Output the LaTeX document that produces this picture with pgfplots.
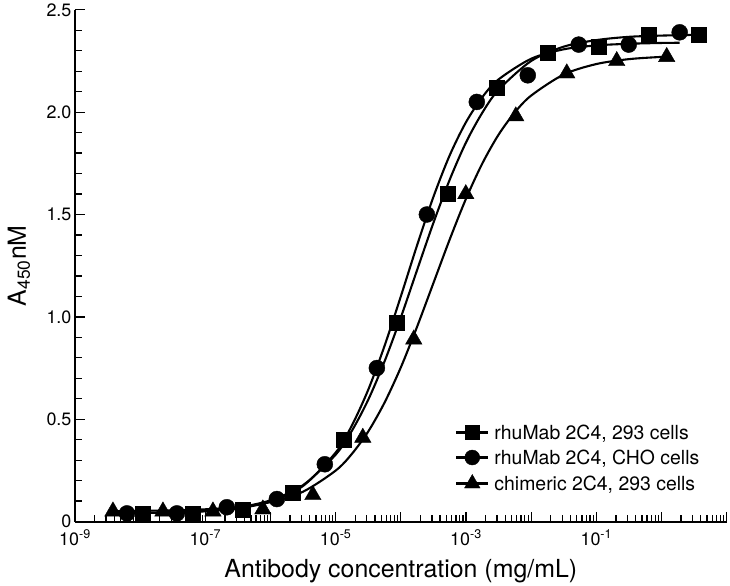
\documentclass[border=0pt]{standalone}
\usepackage{fontspec}
\setmainfont{TeX Gyre Heros}
\usepackage{pgfplots}
\pgfplotsset{compat=1.18}
\begin{document}
\begin{tikzpicture}
\begin{axis}[
  scale only axis,
  width=652bp, height=512bp,
  xmode=log,
  xmin=1e-9, xmax=10,
  ymin=0, ymax=2.5,
  axis lines*=left,
  axis line style={line width=1.9pt},
  tick align=inside,
  every tick/.style={black, line width=1.3pt},
  major tick length=10bp, minor tick length=7bp,
  xtick={1e-9,1e-8,1e-7,1e-6,1e-5,1e-4,1e-3,1e-2,1e-1,1,10},
  xticklabels={10\textsuperscript{-9},,10\textsuperscript{-7},,10\textsuperscript{-5},,10\textsuperscript{-3},,10\textsuperscript{-1},,},
  minor xtick={2e-9,3e-9,4e-9,5e-9,6e-9,7e-9,8e-9,9e-9,
    2e-8,3e-8,4e-8,5e-8,6e-8,7e-8,8e-8,9e-8,
    2e-7,3e-7,4e-7,5e-7,6e-7,7e-7,8e-7,9e-7,
    2e-6,3e-6,4e-6,5e-6,6e-6,7e-6,8e-6,9e-6,
    2e-5,3e-5,4e-5,5e-5,6e-5,7e-5,8e-5,9e-5,
    2e-4,3e-4,4e-4,5e-4,6e-4,7e-4,8e-4,9e-4,
    2e-3,3e-3,4e-3,5e-3,6e-3,7e-3,8e-3,9e-3,
    2e-2,3e-2,4e-2,5e-2,6e-2,7e-2,8e-2,9e-2,
    0.2,0.3,0.4,0.5,0.6,0.7,0.8,0.9,
    2,3,4,5,6,7,8,9},
  ytick={0,0.5,1,1.5,2,2.5},
  yticklabels={0,0.5,1.0,1.5,2.0,2.5},
  minor ytick={0.1,0.2,0.3,0.4,0.6,0.7,0.8,0.9,1.1,1.2,1.3,1.4,1.6,1.7,1.8,1.9,2.1,2.2,2.3,2.4},
  ticklabel style={font=\fontsize{18}{20}\selectfont},
  xticklabel style={yshift=-5bp},
  xlabel={Antibody concentration (mg/mL)},
  ylabel={A\textsubscript{450}nM},
  every axis x label/.style={at={(axis description cs:0.5,-0.096)}, anchor=center, font=\fontsize{25}{28}\selectfont},
  every axis y label/.style={at={(axis description cs:-0.086,0.5)}, rotate=90, anchor=center, font=\fontsize{25}{28}\selectfont},
  legend style={at={(0.583,0.190)}, anchor=north west, draw=none, fill=none,
    font=\fontsize{19.5}{22}\selectfont, row sep=9bp, inner sep=0pt,
    nodes={inner xsep=5bp, inner ysep=0pt}},
  legend cell align=left,
  legend image code/.code={\draw[mark repeat=2,mark phase=2] plot coordinates {(0bp,0bp) (16bp,0bp) (32bp,0bp)};},
  clip=false,
]
\coordinate (O) at (rel axis cs:0,0);
\addlegendimage{black, line width=2.4pt, mark=square*, mark size=7bp, mark options={solid, line width=0.4pt}}
\addlegendentry{rhuMab 2C4, 293 cells}
\addlegendimage{black, line width=2.4pt, mark=*, mark size=7.5bp, mark options={solid, line width=0.4pt}}
\addlegendentry{rhuMab 2C4, CHO cells}
\addlegendimage{black, line width=2.4pt, mark=triangle*, mark size=9bp, mark options={solid, line width=0.4pt}}
\addlegendentry{chimeric 2C4, 293 cells}

% fitted curves
\addplot[black, line width=2.1pt, smooth, forget plot] coordinates {
 (1.104e-8,0.043) (3.162e-8,0.046) (1e-7,0.053) (3.162e-7,0.069) (1e-6,0.104)
 (3.162e-6,0.178) (1e-5,0.327) (1.778e-5,0.444) (3.162e-5,0.595) (5.623e-5,0.782)
 (1e-4,0.997) (1.778e-4,1.229) (3.162e-4,1.459) (5.623e-4,1.670) (1e-3,1.852)
 (1.778e-3,1.997) (3.162e-3,2.109) (1e-2,2.250) (3.162e-2,2.320) (0.1,2.352)
 (0.3162,2.368) (1,2.374) (3.724,2.378)};
\addplot[black, line width=2.1pt, smooth, forget plot] coordinates {
 (6.28e-9,0.041) (3.162e-8,0.044) (1e-7,0.050) (3.162e-7,0.064) (1e-6,0.098)
 (3.162e-6,0.174) (1e-5,0.337) (1.778e-5,0.470) (3.162e-5,0.644) (5.623e-5,0.858)
 (1e-4,1.100) (1.778e-4,1.350) (3.162e-4,1.586) (5.623e-4,1.789) (1e-3,1.951)
 (1.778e-3,2.073) (3.162e-3,2.160) (1e-2,2.261) (3.162e-2,2.307) (0.1,2.326)
 (0.3162,2.334) (1,2.338) (1.90,2.339)};
\addplot[black, line width=2.1pt, smooth, forget plot] coordinates {
 (3.83e-9,0.051) (3.162e-8,0.055) (1e-7,0.060) (3.162e-7,0.071) (1e-6,0.095)
 (3.162e-6,0.146) (1e-5,0.249) (1.778e-5,0.331) (3.162e-5,0.440) (5.623e-5,0.581)
 (1e-4,0.753) (1.778e-4,0.952) (3.162e-4,1.165) (5.623e-4,1.378) (1e-3,1.577)
 (1.778e-3,1.749) (3.162e-3,1.890) (5.623e-3,1.999) (1e-2,2.081) (3.162e-2,2.184)
 (0.1,2.235) (0.3162,2.259) (1,2.270) (1.202,2.271)};

% data points
\addplot[black, only marks, mark=square*, mark size=7.5bp, forget plot] coordinates {
 (1.104e-8,0.04) (6.457e-8,0.04) (3.776e-7,0.06) (2.208e-6,0.14) (1.337e-5,0.40)
 (8.69e-5,0.97) (5.26e-4,1.60) (2.965e-3,2.12) (1.795e-2,2.29) (0.1089,2.32)
 (0.637,2.38) (3.724,2.38)};
\addplot[black, only marks, mark=*, mark size=8bp, forget plot] coordinates {
 (6.28e-9,0.04) (3.66e-8,0.04) (2.14e-7,0.07) (1.253e-6,0.11) (6.82e-6,0.28)
 (4.29e-5,0.75) (2.51e-4,1.50) (1.466e-3,2.05) (8.87e-3,2.18) (5.37e-2,2.33)
 (0.314,2.33) (1.90,2.39)};
\addplot[black, only marks, mark=triangle*, mark size=9.5bp, forget plot] coordinates {
 (3.83e-9,0.05) (2.24e-8,0.05) (1.31e-7,0.05) (7.64e-7,0.06) (4.47e-6,0.13)
 (2.61e-5,0.41) (1.58e-4,0.89) (9.93e-4,1.60) (5.81e-3,1.98) (3.52e-2,2.19)
 (0.2056,2.25) (1.202,2.27)};
\end{axis}
\path (O) ++(-75bp,-63bp) rectangle ++(730bp,583bp);
\end{tikzpicture}
\end{document}
